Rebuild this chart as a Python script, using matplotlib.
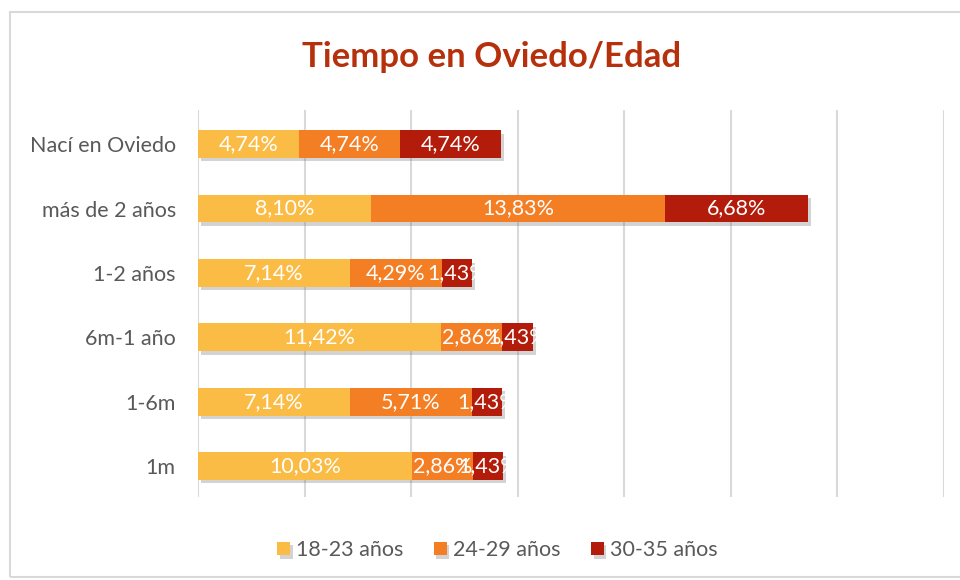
import numpy as np
import matplotlib.pyplot as plt
import matplotlib.patheffects as pe
from matplotlib.patches import Rectangle

plt.rcParams['font.family'] = ['Lato', 'DejaVu Sans']

# data
categorias = ['1m', '1-6m', '6m-1 año', '1-2 años', 'más de 2 años', 'Nací en Oviedo']
series = ['18-23 años', '24-29 años', '30-35 años']
v_18_23 = [10.03, 7.14, 11.42, 7.14, 8.10, 4.74]
v_24_29 = [2.86, 5.71, 2.86, 4.29, 13.83, 4.74]
v_30_35 = [1.43, 1.43, 1.43, 1.43, 6.68, 4.74]
colores = ['#FBBC45', '#F47E24', '#B31C0A']

valores = [v_18_23, v_24_29, v_30_35]

fig = plt.figure(figsize=(9.6, 5.8), dpi=100)
ax = fig.add_axes([198/960, 1-497/580, (944-198)/960, (497-110)/580])

y = np.arange(len(categorias))
total = np.sum(valores, axis=0)
izq = np.zeros(len(categorias))
sombra = [pe.SimplePatchShadow(offset=(2, -2.5), shadow_rgbFace='#707070', alpha=0.3), pe.Normal()]
for nombre, vals, col in zip(series, valores, colores):
    vals = np.array(vals)
    barras = ax.barh(y, vals, left=izq, height=0.43, color=col, label=nombre, zorder=3)
    for b in barras:
        b.set_path_effects(sombra)
    for yi, l, v, t in zip(y, izq, vals, total):
        txt = ax.text(l + v/2, yi, f'{v:.2f}%'.replace('.', ','), ha='center', va='center',
                      color='white', fontsize=15.5, zorder=5)
        # las etiquetas se cortan al final de la barra apilada
        recorte = Rectangle((0, yi - 0.5), t + 0.25, 1, transform=ax.transData)
        txt.set_clip_path(recorte)
    izq += vals

ax.set_xlim(0, 35)
ax.set_ylim(-0.48, 5.53)
ax.set_xticks(np.arange(0, 36, 5))
ax.set_xticklabels([])
ax.set_yticks(y)
ax.set_yticklabels(categorias, fontsize=15.5, color='#595959')
ax.tick_params(length=0, pad=16)
ax.grid(axis='x', color='#D9D9D9', lw=1.5, zorder=0)
for s in ax.spines.values():
    s.set_visible(False)

fig.text(0.512, 1-57/580, 'Tiempo en Oviedo/Edad', ha='center', va='center',
         fontsize=25, fontweight='bold', color='#B5300B')

fig.legend(loc='center', bbox_to_anchor=(0.518, 1-550/580), ncol=3, frameon=False,
           fontsize=15.5, labelcolor='#595959', handlelength=0.6, handleheight=0.6,
           handletextpad=0.3, columnspacing=1.4)

fig.patches.append(Rectangle((10/960, 3/580), 960/960, 565/580, transform=fig.transFigure,
                             fill=False, ec='#D9D9D9', lw=1.5))

fig.savefig('out.png', dpi=100)
